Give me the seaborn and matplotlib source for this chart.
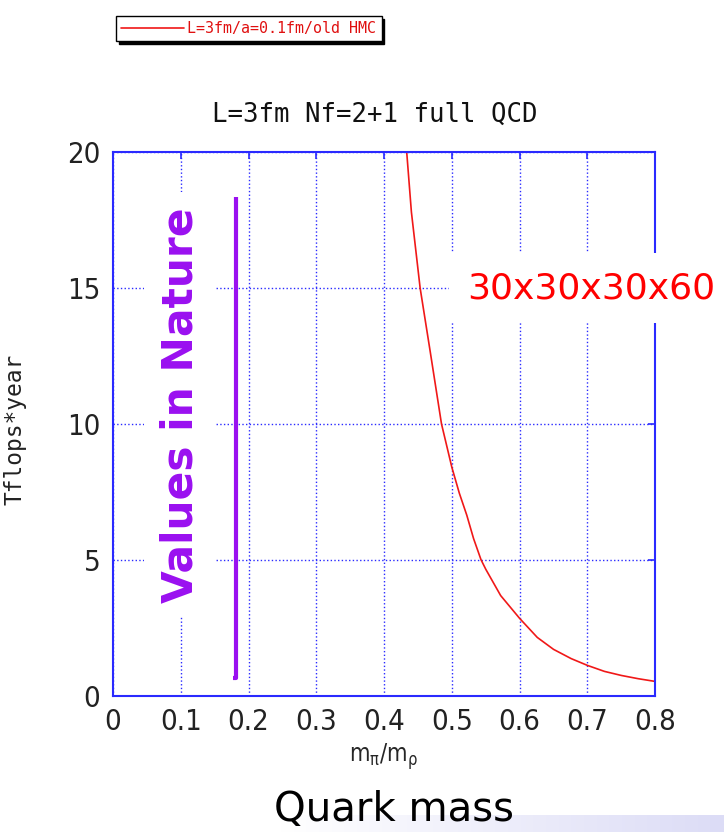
import numpy as np
import pandas as pd
import matplotlib
matplotlib.use('Agg')
import matplotlib.pyplot as plt
import seaborn as sns

# curve (m_pi/m_rho vs Tflops*year)
massRatio = [0.4334, 0.4403, 0.4532, 0.468, 0.4847, 0.50, 0.511, 0.522, 0.532, 0.543, 0.55,
             0.572, 0.60, 0.626, 0.65, 0.676, 0.70, 0.725, 0.75, 0.775, 0.80]
tflopsYear = [20.0, 17.8, 15.0, 12.67, 10.0, 8.4, 7.45, 6.64, 5.78, 5.0, 4.65,
              3.68, 2.84, 2.14, 1.70, 1.36, 1.11, 0.89, 0.74, 0.62, 0.52]

# "values in nature" marker line
natureX = [0.177, 0.1815, 0.1815]
natureY = [0.63, 0.63, 18.35]

xTicks = [0, 0.1, 0.2, 0.3, 0.4, 0.5, 0.6, 0.7, 0.8]
yTicks = [0, 5, 10, 15, 20]
legendLabel = 'L=3fm/a=0.1fm/old HMC'

sns.set_style('white')
plt.rcParams['font.family'] = ['DejaVu Sans']
plt.rcParams['font.stretch'] = 'condensed'
plt.rcParams['mathtext.default'] = 'regular'

blue = '#2a2aff'
purple = '#9a10f0'
monoFont = ['DejaVu Sans Mono']

fig = plt.figure(figsize=(7.24, 8.32), dpi=100)
ax = fig.add_axes([0.156, 0.164, 0.749, 0.653])

df = pd.DataFrame({'x': massRatio, 'y': tflopsYear})
sns.lineplot(data=df, x='x', y='y', ax=ax, color='#f01818', linewidth=1.2,
             label=legendLabel, legend=False)
ax.plot(natureX, natureY, color=purple, linewidth=3, solid_capstyle='butt', zorder=3)

ax.set_xlim(0, 0.8)
ax.set_ylim(0, 20)
ax.set_xticks(xTicks)
ax.set_xticklabels(['0'] + [f'{v:.1f}' for v in xTicks[1:]])
ax.set_yticks(yTicks)
ax.grid(True, color=blue, linestyle=':', linewidth=1.0)
for s in ax.spines.values():
    s.set_color(blue)
    s.set_linewidth(1.5)
    s.set_visible(True)
ax.tick_params(direction='in', length=5, color=blue, width=1.2,
               top=True, right=True, labelsize=21, pad=9, labelcolor='#222222')
for lbl in ax.get_xticklabels() + ax.get_yticklabels():
    lbl.set_fontweight('light')

# title placed by hand, slightly left of the axes centre like the reference
fig.text(375 / 724, 1 - 122 / 832, 'L=3fm Nf=2+1 full QCD', ha='center', va='baseline',
         fontsize=18.5, family=monoFont, color='#111111')
ax.set_ylabel('Tflops*year', fontsize=16.5, family=monoFont, color='#222222')
ax.yaxis.set_label_coords(-0.16, 0.49)
ax.set_xlabel('m$_π$/m$_ρ$', fontsize=17, labelpad=4)

# annotations
ax.text(0.099, 10.7, 'Values in Nature', rotation=90, ha='center', va='center',
        fontsize=30.5, fontweight='bold', color=purple, family=['DejaVu Sans'],
        fontstretch='normal',
        bbox=dict(boxstyle='square,pad=0.35', fc='white', ec='none'), zorder=4)
ax.text(0.523, 15.0, '30x30x30x60', ha='left', va='center', fontsize=26,
        color='#ff0000', family=['DejaVu Sans'], fontstretch='normal', clip_on=False,
        bbox=dict(boxstyle='square,pad=0.5', fc='white', ec='none'), zorder=5)

leg = fig.legend(handles=ax.get_lines()[:1], labels=[legendLabel],
                 loc='upper left', bbox_to_anchor=(0.150, 0.99),
                 frameon=True, fancybox=False, shadow={'color': 'black', 'alpha': 1.0},
                 handlelength=4.2, handletextpad=0.2, borderpad=0.35,
                 prop={'family': 'DejaVu Sans Mono', 'size': 10.8})
leg.get_frame().set_edgecolor('black')
leg.get_frame().set_linewidth(1.0)
for t in leg.get_texts():
    t.set_color('#e01010')

# slide-like bottom band
bandAx = fig.add_axes([280 / 724, 0, 1 - 280 / 724, 17 / 832])
grad = np.linspace(0, 1, 256).reshape(1, -1)
bandAx.imshow(grad, aspect='auto', cmap=matplotlib.colors.LinearSegmentedColormap.from_list(
    'band', ['white', '#dcdcf6']), extent=[0, 1, 0, 1])
bandAx.axis('off')

fig.text(394 / 724, 11 / 832, 'Quark mass', ha='center', va='baseline', fontsize=29,
         family=['DejaVu Sans'], fontstretch='normal', color='black')

fig.savefig('out.png', dpi=100)
